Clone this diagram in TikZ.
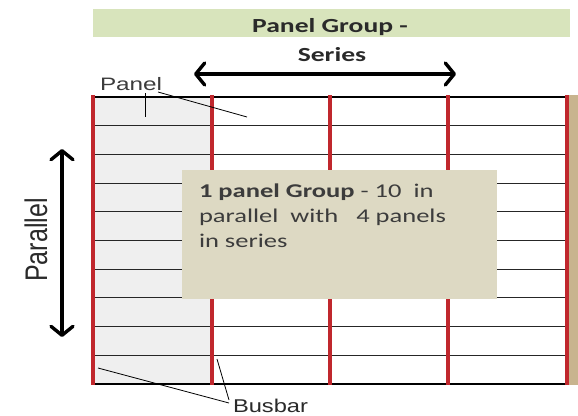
\documentclass[tikz,border=0pt]{standalone}
\usepackage{fontspec}
\setmainfont{Liberation Sans}
\newfontfamily\calibfont{Carlito}
\usetikzlibrary{arrows.meta}

\definecolor{bannergreen}{HTML}{D8E4BC}
\definecolor{colgray}{HTML}{EFEFEF}
\definecolor{busred}{HTML}{C0272D}
\definecolor{notebeige}{HTML}{DDD9C3}
\definecolor{edgetan}{HTML}{C8B48E}
\definecolor{inkdark}{HTML}{2A2A2A}
\definecolor{inkgray}{HTML}{3C3C3C}

% horizontally widened text
\newcommand{\wide}[2]{\scalebox{#1}[1]{#2}}

\tikzset{
  gridline/.style={line width=1.1pt, draw=black!85},
  gridedge/.style={line width=1.9pt, draw=black},
  busbarline/.style={line width=4pt, draw=busred},
  bigarrow/.style={line width=3.6pt, line cap=round,
    {Straight Barb[length=9pt,width=22pt,line width=3.4pt,round]}-{Straight Barb[length=9pt,width=22pt,line width=3.4pt,round]}},
  leader/.style={line width=0.8pt, draw=black},
  lbl/.style={inner sep=0pt, outer sep=0pt},
}

\begin{document}
\begin{tikzpicture}[x=1pt, y=-1pt]
  \useasboundingbox (0,0) rectangle (578,415);
  \fill[white] (0,0) rectangle (578,415);

  % title banner
  \fill[bannergreen] (93,9) rectangle (570,37);
  \node[lbl, anchor=base, text=inkdark] (titleA) at (330,32)
    {\calibfont\bfseries\fontsize{20}{24}\selectfont\wide{1.38}{Panel Group -}};
  \node[lbl, anchor=base, text=inkdark] (titleB) at (332,61)
    {\calibfont\bfseries\fontsize{20}{24}\selectfont\wide{1.38}{Series}};

  % series arrow
  \coordinate (serL) at (194,74);
  \coordinate (serR) at (456,74);
  \draw[bigarrow] (serL) -- (serR);

  % panel array
  \fill[colgray] (93,97) rectangle (212,384);
  \fill[edgetan] (569,95) rectangle (578,385);
  \foreach \i in {1,...,9} {
    \draw[gridline] (93,{97+28.7*\i}) -- (567,{97+28.7*\i});
  }
  \draw[gridedge] (93,97) -- (567,97);
  \draw[gridedge] (93,384) -- (567,384);
  \foreach \x in {93,212,330,448,567} {
    \draw[busbarline] (\x,95) -- (\x,385);
  }

  % note box
  \fill[notebeige] (182,170) rectangle (497,299);
  \begin{scope}[shift={(199,197.5)}, xscale=1.36, transform shape]
    \node[lbl, anchor=base west, text=inkgray] (note) at (0,0)
      {\calibfont\fontsize{19.5}{25}\selectfont
       \begin{tabular}[t]{@{}l@{}}
       \textbf{1 panel Group} - 10\ \ in\\
       parallel\ \ with\ \ \ 4 panels\\
       in series
       \end{tabular}};
  \end{scope}

  % parallel arrow and label
  \coordinate (parT) at (62,149);
  \coordinate (parB) at (62,337);
  \draw[bigarrow] (parT) -- (parB);
  \node[lbl, rotate=90, text=inkdark] (par) at (36,240)
    {\fontsize{25}{28}\selectfont\scalebox{1}[1.25]{Parallel}};

  % panel label with leaders
  \node[lbl, anchor=base west, text=inkgray] (panelLbl) at (100,90)
    {\fontsize{18}{20}\selectfont\wide{1.35}{Panel}};
  \coordinate (tickA) at (145,93);
  \coordinate (tickB) at (145,117);
  \coordinate (diagA) at (158,92);
  \coordinate (diagB) at (247,117);
  \draw[leader] (tickA) -- (tickB);
  \draw[leader] (diagA) -- (diagB);

  % busbar label with leaders
  \node[lbl, anchor=base west, text=inkdark] (bus) at (233,412)
    {\fontsize{18.5}{20}\selectfont\wide{1.28}{Busbar}};
  \coordinate (busA) at (98,368);
  \coordinate (busB) at (217,359);
  \coordinate (busEndA) at (229,403);
  \coordinate (busEndB) at (229,400);
  \draw[leader] (busA) -- (busEndA);
  \draw[leader] (busB) -- (busEndB);
\end{tikzpicture}
\end{document}
